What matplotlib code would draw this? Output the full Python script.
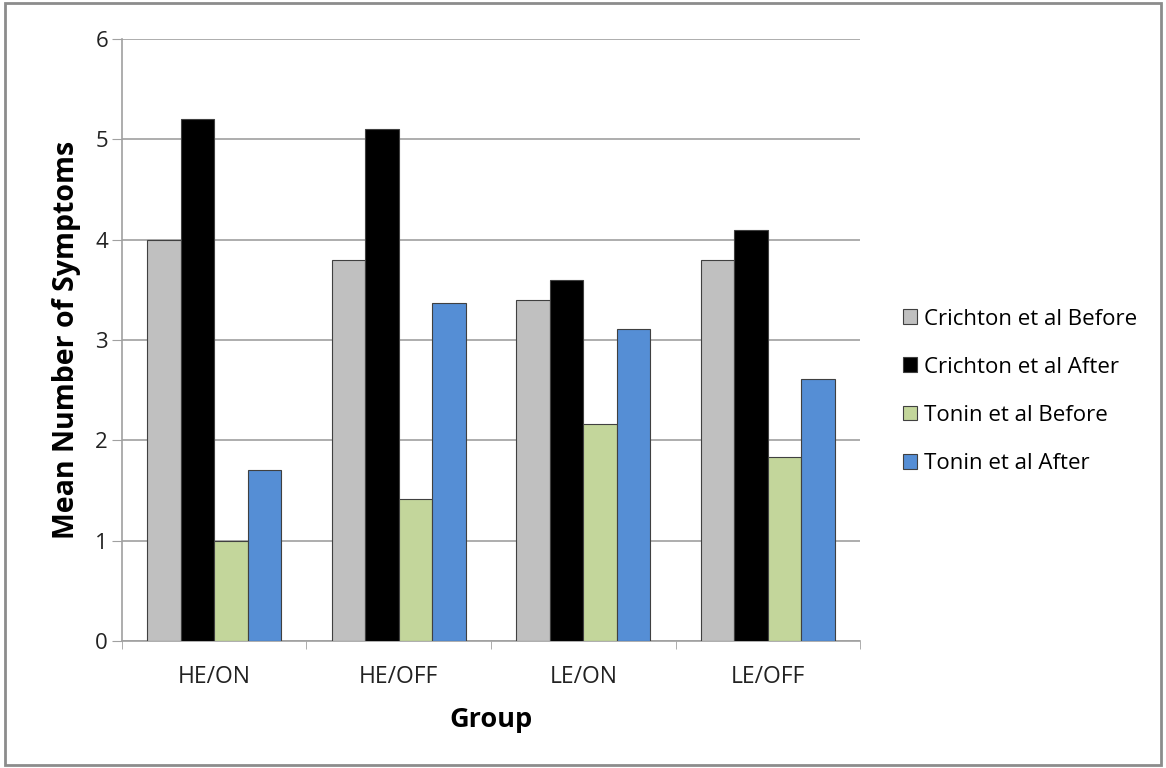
import matplotlib.pyplot as plt
import numpy as np
from matplotlib.patches import Rectangle

groups = ['HE/ON', 'HE/OFF', 'LE/ON', 'LE/OFF']
crichton_before = [4.0, 3.8, 3.4, 3.8]
crichton_after = [5.2, 5.1, 3.6, 4.1]
tonin_before = [1.0, 1.42, 2.16, 1.83]
tonin_after = [1.7, 3.37, 3.11, 2.61]

series = [
    ('Crichton et al Before', crichton_before, '#C0C0C0'),
    ('Crichton et al After', crichton_after, '#000000'),
    ('Tonin et al Before', tonin_before, '#C3D69B'),
    ('Tonin et al After', tonin_after, '#558ED5'),
]

plt.rcParams['font.family'] = ['Open Sans', 'DejaVu Sans']

fig = plt.figure(figsize=(11.66, 7.68), dpi=100)
ax = fig.add_axes([0.1046, 0.1654, 0.633, 0.7836])

x = np.arange(len(groups))
w = 0.182
for i, (name, vals, col) in enumerate(series):
    ax.bar(x + (i - 1.5) * w, vals, w, color=col, edgecolor='#404040',
           linewidth=0.8, label=name, zorder=3)

ax.set_xlim(-0.5, len(groups) - 0.5)
ax.set_ylim(0, 6)
ax.set_yticks(range(0, 7))
ax.yaxis.grid(True, color='#A0A0A0', linewidth=1.2, zorder=0)
ax.tick_params(axis='y', length=7, color='#A0A0A0', labelsize=16, pad=3,
               labelcolor='#222222')

ax.set_xticks(x)
ax.set_xticklabels(groups)
ax.set_xticks(np.arange(-0.5, len(groups)), minor=True)
ax.tick_params(axis='x', which='major', length=0, labelsize=16.5, pad=17,
               labelcolor='#222222')
ax.tick_params(axis='x', which='minor', length=6, color='#A0A0A0')

for s in ['top', 'right']:
    ax.spines[s].set_visible(False)
for s in ['left', 'bottom']:
    ax.spines[s].set_color('#A0A0A0')
    ax.spines[s].set_linewidth(1.2)

ax.set_xlabel('Group', fontsize=19.5, fontweight='bold', labelpad=13)
ax.set_ylabel('Mean Number of Symptoms', fontsize=20.5, fontweight='bold', labelpad=10)

ax.legend(loc='center left', bbox_to_anchor=(1.058, 0.415), frameon=False,
          fontsize=16, handlelength=0.65, handleheight=0.65, handletextpad=0.3,
          labelspacing=1.22, borderaxespad=0, borderpad=0)

fig.patches.append(Rectangle((0.004, 0.004), 0.992, 0.992, transform=fig.transFigure,
                             fill=False, edgecolor='#8C8C8C', linewidth=2))

fig.savefig('out.png', dpi=100)
